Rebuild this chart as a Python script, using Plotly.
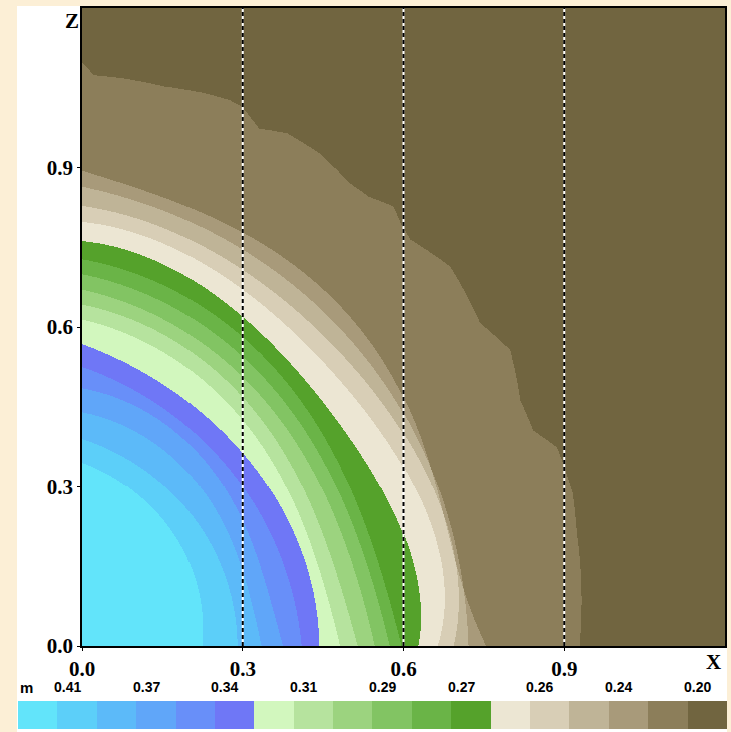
import numpy as np
import plotly.graph_objects as go

# ---- band colours (18 classes, wettest -> driest) ----
band_colors = [
    "#62E4FA", "#5CCFF9", "#5CBAF9", "#60A6F9", "#688FF9", "#6F77F6",
    "#D2F7BE", "#B6E39E", "#9CD37F", "#82C463", "#6AB447", "#55A22B",
    "#ECE6D3", "#D8CEB6", "#BFB497", "#A89A7A", "#8C7E5A", "#716540",
]
legend_labels = ["0.41", "0.37", "0.34", "0.31", "0.29", "0.27", "0.26", "0.24", "0.20"]
legend_label_band = [0.75 + 2 * i for i in range(len(legend_labels))]

# ---- class boundaries between neighbouring bands (16 smooth fronts) ----
edge_x0 = [0.224, 0.290, 0.335, 0.375, 0.410, 0.443, 0.482, 0.515, 0.547, 0.575,
           0.597, 0.627, 0.663, 0.693, 0.721, 0.754]            # crossing of z = 0
edge_z0 = [0.345, 0.390, 0.440, 0.485, 0.525, 0.568, 0.614, 0.642, 0.670, 0.699,
           0.727, 0.761, 0.797, 0.827, 0.863, 0.893]            # crossing of x = 0
edge_diag = [0.186, 0.222, 0.252, 0.278, 0.300, 0.328, 0.352, 0.372, 0.393, 0.412,
             0.430, 0.454, 0.490, 0.515, 0.535, 0.552]          # crossing of x = z
edge_at_03 = [None, None, 0.140, 0.235, None, 0.363, 0.425, 0.468, 0.506, 0.544,
              0.581, 0.619, 0.670, 0.707, 0.745, 0.777]         # z where x = 0.3
edge_at_06 = [None, None, None, None, None, None, None, None, None, None,
              None, 0.210, 0.337, 0.400, 0.438, 0.468]          # z where x = 0.6

# ---- outermost (ragged) front between the two darkest bands ----
outer_x = [0.000, 0.022, 0.077, 0.153, 0.230, 0.276, 0.299, 0.330, 0.383, 0.444,
           0.498, 0.536, 0.582, 0.601, 0.612, 0.687, 0.743, 0.799, 0.818, 0.842,
           0.887, 0.898, 0.916, 0.924, 0.929]
outer_z = [1.098, 1.074, 1.068, 1.053, 1.040, 1.027, 1.014, 0.974, 0.965, 0.927,
           0.871, 0.844, 0.826, 0.782, 0.764, 0.713, 0.607, 0.557, 0.463, 0.406,
           0.374, 0.344, 0.288, 0.213, 0.000]

# ---- section lines and axis ticks ----
section_x = [0.3, 0.6, 0.9]
tick_vals = [0.0, 0.3, 0.6, 0.9]
tick_text = ["0.0", "0.3", "0.6", "0.9"]
AX_MAX = 1.2


def polar_front(xs, zs):
    """Smooth radius-vs-angle function through the given front points."""
    xs = np.asarray(xs, float)
    zs = np.asarray(zs, float)
    th = np.arctan2(zs, xs)
    r = np.hypot(xs, zs)
    order = np.argsort(th)
    coef = np.polyfit(th[order], r[order], len(th) - 1)
    return lambda t: np.polyval(coef, t)


# grid of cell centres
N = 640
xc = (np.arange(N) + 0.5) * AX_MAX / N
zc = (np.arange(N) + 0.5) * AX_MAX / N
XX, ZZ = np.meshgrid(xc, zc)
TH = np.arctan2(ZZ, XX)
RR = np.hypot(XX, ZZ)

band = np.zeros(RR.shape, dtype=int)
for k in range(len(edge_x0)):
    px = [edge_x0[k], edge_diag[k], 0.0]
    pz = [0.0, edge_diag[k], edge_z0[k]]
    if edge_at_03[k] is not None:
        px.append(0.3)
        pz.append(edge_at_03[k])
    if edge_at_06[k] is not None:
        px.append(0.6)
        pz.append(edge_at_06[k])
    front = polar_front(px, pz)
    band += (RR > front(TH)).astype(int)

o_th = np.arctan2(outer_z, outer_x)
o_r = np.hypot(outer_x, outer_z)
idx = np.argsort(o_th)
band += (RR > np.interp(TH, o_th[idx], o_r[idx])).astype(int)

# discrete colour scale
nb = len(band_colors)
colorscale = []
for i, c in enumerate(band_colors):
    colorscale.append([i / nb, c])
    colorscale.append([(i + 1) / nb, c])

W, H = 731, 732
ML, MR, MT, MB = 82, 6, 8, 86
PW, PH = W - ML - MR, H - MT - MB

# colour key geometry (pixels)
KEY_X0, KEY_X1 = 18, 727
KEY_Y0, KEY_Y1 = 701, 729
KEY_LABEL_Y = 687


def px2paper(px, py):
    return (px - ML) / PW, (H - MB - py) / PH


fig = go.Figure()

cb_x, cb_y = px2paper((KEY_X0 + KEY_X1) / 2, (KEY_Y0 + KEY_Y1) / 2)
fig.add_trace(go.Heatmap(
    x=xc, y=zc, z=band,
    zmin=-0.5, zmax=nb - 0.5,
    colorscale=colorscale, zsmooth=False,
    hoverinfo="skip",
    colorbar=dict(
        orientation="h",
        x=cb_x, xanchor="center", y=cb_y, yanchor="middle",
        len=KEY_X1 - KEY_X0, lenmode="pixels",
        thickness=KEY_Y1 - KEY_Y0, thicknessmode="pixels",
        xpad=0, ypad=0, outlinewidth=0,
        ticks="", showticklabels=False,
    ),
))

# dashed section lines (white underlay, black dashes on top)
for xv in section_x:
    fig.add_trace(go.Scatter(x=[xv, xv], y=[0, AX_MAX], mode="lines",
                             line=dict(color="white", width=2),
                             hoverinfo="skip", showlegend=False))
    fig.add_trace(go.Scatter(x=[xv, xv], y=[0, AX_MAX], mode="lines",
                             line=dict(color="black", width=2, dash="4px,3px"),
                             hoverinfo="skip", showlegend=False))

axis_font = dict(family="Liberation Serif", size=21, color="black", weight="bold")
common_axis = dict(
    range=[0, AX_MAX], showgrid=False, zeroline=False,
    showline=True, mirror=True, linecolor="black", linewidth=1.5,
    ticks="outside", ticklen=3, tickcolor="black",
    tickvals=tick_vals, ticktext=tick_text, tickfont=axis_font,
    automargin=False,
)
fig.update_xaxes(**common_axis, ticklabelstandoff=0)
fig.update_yaxes(**common_axis, ticklabelstandoff=0)

# white drawing panel on the cream page
p0x, p0y = px2paper(17, 732)
p1x, p1y = px2paper(727, 6)
fig.add_shape(type="rect", xref="paper", yref="paper",
              x0=p0x, y0=p0y, x1=p1x, y1=p1y,
              fillcolor="white", line=dict(width=0), layer="below")

# axis letters
for txt, (ax_px, ax_py) in [("Z", (71.5, 21)), ("X", (713, 662))]:
    ax, ay = px2paper(ax_px, ax_py)
    fig.add_annotation(x=ax, y=ay, xref="paper", yref="paper", text=txt,
                       xanchor="center", yanchor="middle",
                       showarrow=False, font=axis_font)

# colour key labels
key_font = dict(family="Liberation Sans", size=14, color="black", weight="bold")
cell_w = (KEY_X1 - KEY_X0) / nb
mx, my = px2paper(26, KEY_LABEL_Y)
fig.add_annotation(x=mx, y=my, xref="paper", yref="paper", text="m",
                   xanchor="center", yanchor="middle", showarrow=False,
                   font=dict(family="Liberation Sans", size=15, color="black", weight="bold"))
for lab, bv in zip(legend_labels, legend_label_band):
    lx, ly = px2paper(KEY_X0 + cell_w * (bv + 0.5), KEY_LABEL_Y)
    fig.add_annotation(x=lx, y=ly, xref="paper", yref="paper", text=lab,
                       xanchor="center", yanchor="middle", showarrow=False,
                       font=key_font)

fig.update_layout(
    width=W, height=H,
    margin=dict(l=ML, r=MR, t=MT, b=MB, autoexpand=False),
    paper_bgcolor="#FCEFD6",
    plot_bgcolor="white",
    showlegend=False,
)

fig.write_html("out.html")
